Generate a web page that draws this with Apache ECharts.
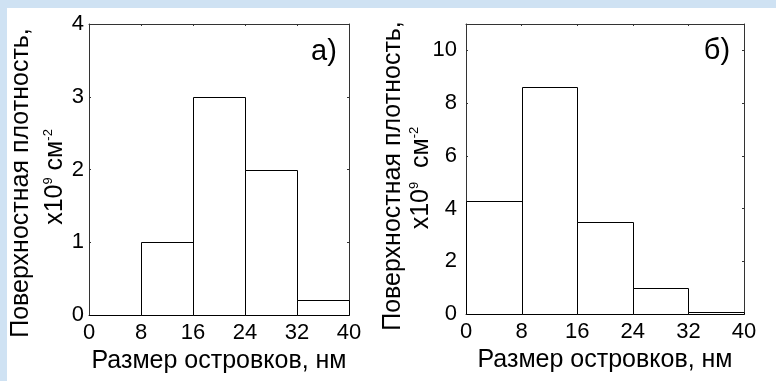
<!DOCTYPE html>
<html>
<head>
<meta charset="utf-8">
<script src="https://cdn.jsdelivr.net/npm/echarts@6/dist/echarts.min.js"></script>
<style>
  html, body { margin: 0; padding: 0; width: 776px; height: 381px; overflow: hidden; background: #cfe2f3; }
  #chart { position: absolute; left: 7px; top: 8px; width: 769px; height: 373px; background: #fff; }
</style>
</head>
<body>
<div id="chart"></div>
<script>
// Histogram bins (island size, nm) and surface densities (x10^9 cm^-2)
const binEdges = [0, 8, 16, 24, 32, 40];
const densityA = [0, 1, 3, 2, 0.2];
const densityB = [4.3, 8.6, 3.5, 1.0, 0.08];

// Axis ticks
const xTicks = [0, 8, 16, 24, 32, 40];
const yTicksA = [0, 1, 2, 3, 4];
const yTicksB = [0, 2, 4, 6, 8, 10];

// Text
const xTitle = 'Размер островков, нм';
const yTitleLine1 = 'Поверхностная плотность,';
const yTitleLine2A = 'x10{s|9} см{s|-2}';
const yTitleLine2B = 'x10{s|9}  см{s|-2}';
const panelLabels = ['а)', 'б)'];

const FONT = 'Liberation Sans';
const FRAME = '#333';

function bins(values) {
  return values.map((v, i) => [binEdges[i], binEdges[i + 1], v]);
}

// One rectangle per bin, from the left edge to the right edge and from 0 up to the value
function histItem(params, api) {
  const p0 = api.coord([api.value(0), api.value(2)]);
  const p1 = api.coord([api.value(1), 0]);
  const x0 = Math.round(p0[0]) + 0.5, x1 = Math.round(p1[0]) + 0.5;
  const y0 = Math.round(p0[1]) + 0.5, y1 = Math.round(p1[1]) + 0.5;
  return {
    type: 'rect',
    shape: { x: x0, y: y0, width: x1 - x0, height: y1 - y0 },
    style: { fill: '#fff', stroke: '#000', lineWidth: 1 }
  };
}

function onTicks(ticks) {
  return v => (ticks.indexOf(v) >= 0 ? String(v) : '');
}

const tickLabel = { fontFamily: FONT, fontSize: 22, color: '#000' };

function bottomAxis(grid) {
  return {
    type: 'value', gridIndex: grid, position: 'bottom', min: 0, max: 40, interval: 8,
    name: xTitle, nameLocation: 'middle', nameGap: 26,
    nameTextStyle: { fontFamily: FONT, fontSize: 25, color: '#000' },
    axisLine: { show: true, lineStyle: { color: FRAME, width: 1 } },
    axisTick: { show: true, inside: true, length: 2, lineStyle: { color: FRAME } },
    axisLabel: Object.assign({ show: true, margin: 7, formatter: onTicks(xTicks) }, tickLabel),
    splitLine: { show: false }
  };
}
function topAxis(grid) {
  return {
    type: 'value', gridIndex: grid, position: 'top', min: 0, max: 40, interval: 8,
    axisLine: { show: true, onZero: false, lineStyle: { color: FRAME, width: 1 } },
    axisTick: { show: true, inside: true, length: 2, lineStyle: { color: FRAME } },
    axisLabel: { show: false },
    splitLine: { show: false }
  };
}
function leftAxis(grid, max, interval, ticks, margin) {
  return {
    type: 'value', gridIndex: grid, position: 'left', min: 0, max: max, interval: interval,
    axisLine: { show: true, lineStyle: { color: FRAME, width: 1 } },
    axisTick: { show: true, inside: true, length: 2, lineStyle: { color: FRAME } },
    axisLabel: Object.assign({ show: true, margin: margin, formatter: onTicks(ticks) }, tickLabel),
    splitLine: { show: false }
  };
}
function rightAxis(grid, max, interval) {
  return {
    type: 'value', gridIndex: grid, position: 'right', min: 0, max: max, interval: interval,
    axisLine: { show: true, onZero: false, lineStyle: { color: FRAME, width: 1 } },
    axisTick: { show: true, inside: true, length: 2, lineStyle: { color: FRAME } },
    axisLabel: { show: false },
    splitLine: { show: false }
  };
}

function yTitle(x1, y1, x2, y2, line2) {
  return [
    {
      type: 'text', x: x1, y: y1, rotation: Math.PI / 2,
      style: { text: yTitleLine1, fontFamily: FONT, fontSize: 25, fill: '#000', align: 'center', verticalAlign: 'middle' }
    },
    {
      type: 'text', x: x2, y: y2, rotation: Math.PI / 2,
      style: {
        text: line2, fontFamily: FONT, fontSize: 25, lineHeight: 27, fill: '#000',
        align: 'center', verticalAlign: 'middle',
        rich: { s: { fontFamily: FONT, fontSize: 13, lineHeight: 27, verticalAlign: 'top', fill: '#000' } }
      }
    }
  ];
}

const chart = echarts.init(document.getElementById('chart'), null, { renderer: 'canvas' });
chart.setOption({
  animation: false,
  backgroundColor: '#fff',
  textStyle: { fontFamily: FONT },
  grid: [
    { left: 82, top: 16, right: 427, bottom: 66 },
    { left: 459, top: 16, right: 32, bottom: 67 }
  ],
  xAxis: [bottomAxis(0), topAxis(0), bottomAxis(1), topAxis(1)],
  yAxis: [
    leftAxis(0, 4, 1, yTicksA, 5), rightAxis(0, 4, 1),
    leftAxis(1, 11, 2, yTicksB, 9), rightAxis(1, 11, 2)
  ],
  series: [
    {
      type: 'custom', xAxisIndex: 0, yAxisIndex: 0, data: bins(densityA),
      encode: { x: [0, 1], y: 2 }, renderItem: histItem, silent: true
    },
    {
      type: 'custom', xAxisIndex: 2, yAxisIndex: 2, data: bins(densityB),
      encode: { x: [0, 1], y: 2 }, renderItem: histItem, silent: true
    }
  ],
  graphic: [
    ...yTitle(14, 175, 48, 169, yTitleLine2A),
    ...yTitle(386, 168, 414, 170, yTitleLine2B),
    {
      type: 'text', x: 317, y: 44,
      style: { text: panelLabels[0], fontFamily: FONT, fontSize: 29, fill: '#000', align: 'center', verticalAlign: 'middle' }
    },
    {
      type: 'text', x: 710, y: 43,
      style: { text: panelLabels[1], fontFamily: FONT, fontSize: 29, fill: '#000', align: 'center', verticalAlign: 'middle' }
    }
  ]
});
</script>
</body>
</html>
